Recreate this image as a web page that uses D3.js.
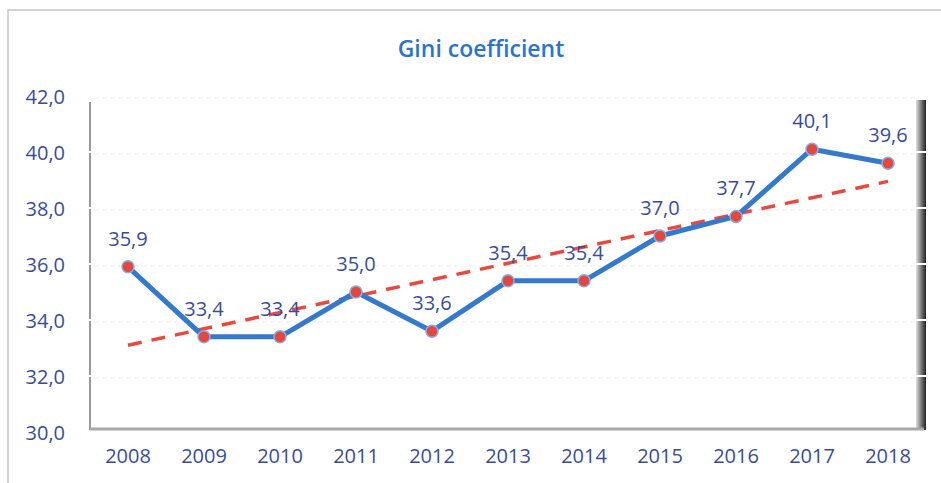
<!DOCTYPE html>
<html>
<head>
<meta charset="utf-8">
<script src="https://cdn.jsdelivr.net/npm/d3@7"></script>
<style>
    body { margin: 0; background: #fff; }
    text { font-family: "Open Sans", sans-serif; }
</style>
</head>
<body>
<div id="chart-area"></div>
<script>
const width = 941, height = 483;
const margin = { left: 90, right: 15, top: 96, bottom: 51 };

// data
const years = ["2008", "2009", "2010", "2011", "2012", "2013", "2014", "2015", "2016", "2017", "2018"];
const gini = [35.9, 33.4, 33.4, 35.0, 33.6, 35.4, 35.4, 37.0, 37.7, 40.1, 39.6];
const trendEnds = [33.1, 38.95]; // linear trend at 2008 and 2018
const yTicks = [30, 32, 34, 36, 38, 40, 42];

const labelColor = "#3b4c96";
const formatComma = (d) => d3.format(".1f")(d).replace(".", ",");

const svg = d3
    .select("#chart-area")
    .append("svg")
    .attr("width", width)
    .attr("height", height);

// outer frame
svg.append("path")
    .attr("d", `M8,${height} V10 H${width}`)
    .attr("fill", "none")
    .attr("stroke", "#c4c4c4")
    .attr("stroke-width", 1.5);

const x = d3.scaleBand()
    .domain(years)
    .range([margin.left, width - margin.right]);

const y = d3.scaleLinear()
    .domain([30, 42])
    .range([height - margin.bottom, margin.top]);

// gridlines
svg.append("g")
    .selectAll("line")
    .data(yTicks.slice(1))
    .enter()
    .append("line")
    .attr("x1", margin.left + 4)
    .attr("x2", width - margin.right - 8)
    .attr("y1", (d) => y(d) + 2)
    .attr("y2", (d) => y(d) + 2)
    .attr("stroke", "#ededed")
    .attr("stroke-width", 1)
    .attr("stroke-dasharray", "5,3");

// left wall
svg.append("line")
    .attr("x1", margin.left).attr("x2", margin.left)
    .attr("y1", y(42) + 6).attr("y2", y(30) - 2)
    .attr("stroke", "#9a9a9a")
    .attr("stroke-width", 2);

// right wall shadow
const defs = svg.append("defs");
const grad = defs.append("linearGradient").attr("id", "wall").attr("x1", 0).attr("x2", 1);
grad.append("stop").attr("offset", "0%").attr("stop-color", "#e0e0e0");
grad.append("stop").attr("offset", "60%").attr("stop-color", "#6a6a6a");
grad.append("stop").attr("offset", "100%").attr("stop-color", "#222");
svg.append("rect")
    .attr("x", width - margin.right - 10)
    .attr("y", y(42) + 4)
    .attr("width", 10)
    .attr("height", y(30) - y(42) - 6)
    .attr("fill", "url(#wall)");

// white notches where the gridlines meet the walls
svg.append("g")
    .selectAll("line")
    .data(yTicks.slice(1, -1))
    .enter()
    .append("line")
    .attr("x1", width - margin.right - 11)
    .attr("x2", width - margin.right + 1)
    .attr("y1", (d) => y(d))
    .attr("y2", (d) => y(d))
    .attr("stroke", "#fff")
    .attr("stroke-width", 2);
svg.append("g")
    .selectAll("line")
    .data(yTicks.slice(1, -1))
    .enter()
    .append("line")
    .attr("x1", margin.left - 2)
    .attr("x2", margin.left + 2)
    .attr("y1", (d) => y(d))
    .attr("y2", (d) => y(d))
    .attr("stroke", "#fff")
    .attr("stroke-width", 2);

// floor
svg.append("line")
    .attr("x1", margin.left).attr("x2", width - margin.right - 2)
    .attr("y1", y(30) - 3).attr("y2", y(30) - 3)
    .attr("stroke", "#a8a8a8")
    .attr("stroke-width", 3);

// axes (labels only)
const yAxis = svg.append("g")
    .attr("transform", `translate(${margin.left - 22}, 0)`)
    .call(d3.axisLeft(y).tickValues(yTicks).tickFormat(formatComma).tickSize(0));
yAxis.select(".domain").remove();
yAxis.selectAll("text")
    .attr("font-size", "20px")
    .attr("fill", labelColor)
    .attr("font-family", "Open Sans")
    .attr("dy", "0.35em");

const xAxis = svg.append("g")
    .attr("transform", `translate(0, ${height - 37})`)
    .call(d3.axisBottom(x).tickSize(0));
xAxis.select(".domain").remove();
xAxis.selectAll("text")
    .attr("font-size", "20px")
    .attr("fill", labelColor)
    .attr("font-family", "Open Sans")
    .attr("dy", "0.71em");

// title
svg.append("text")
    .attr("x", 481)
    .attr("y", 57)
    .attr("text-anchor", "middle")
    .attr("font-size", "23px")
    .attr("font-weight", 600)
    .attr("fill", "#2e74c6")
    .text("Gini coefficient");

const cx = (d, i) => x(years[i]) + x.bandwidth() / 2;

// trend line
svg.append("line")
    .attr("x1", x(years[0]) + x.bandwidth() / 2)
    .attr("x2", x(years[years.length - 1]) + x.bandwidth() / 2)
    .attr("y1", y(trendEnds[0]))
    .attr("y2", y(trendEnds[1]))
    .attr("stroke", "#e8493e")
    .attr("stroke-width", 3.5)
    .attr("stroke-dasharray", "14,10");

// data line
const line = d3.line()
    .x((d, i) => cx(d, i))
    .y((d) => y(d));

svg.append("path")
    .attr("d", line(gini))
    .attr("fill", "none")
    .attr("stroke", "#3479cc")
    .attr("stroke-width", 5)
    .attr("stroke-linejoin", "round");

svg.append("g")
    .selectAll("circle")
    .data(gini)
    .enter()
    .append("circle")
    .attr("cx", cx)
    .attr("cy", (d) => y(d))
    .attr("r", 6)
    .attr("fill", "#e8463c")
    .attr("stroke", "#7fb0e8")
    .attr("stroke-width", 1.5);

// value labels
svg.append("g")
    .selectAll("text")
    .data(gini)
    .enter()
    .append("text")
    .attr("x", cx)
    .attr("y", (d) => y(d) - 21)
    .attr("text-anchor", "middle")
    .attr("font-size", "20px")
    .attr("fill", labelColor)
    .text(formatComma);
</script>
</body>
</html>
